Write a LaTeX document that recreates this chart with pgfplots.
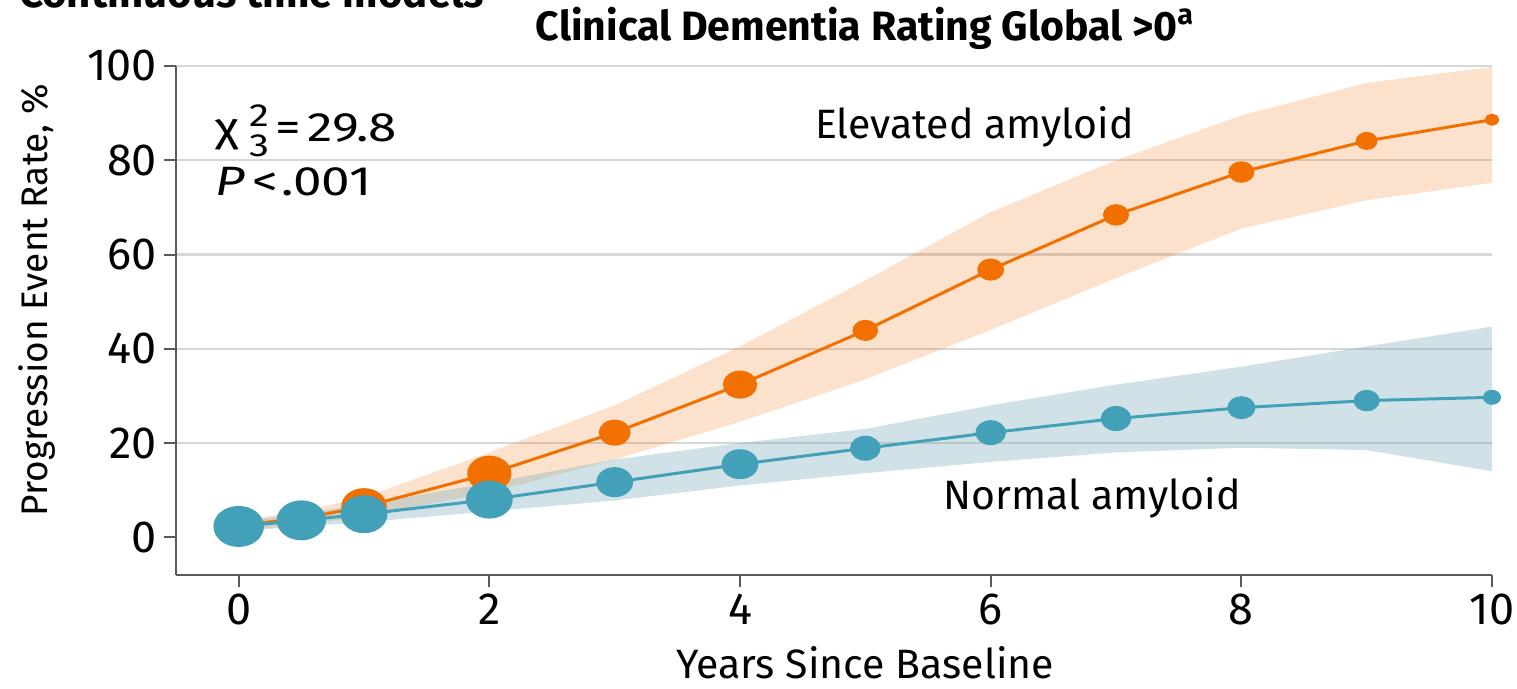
\documentclass[border=0pt]{standalone}
\usepackage{pgfplots}
\pgfplotsset{compat=1.18}
\usepackage{pgfplotstable}
\usepgfplotslibrary{fillbetween}
\usepackage{fontspec}
\setmainfont{Fira Sans}

\definecolor{orangeL}{RGB}{241,112,0}
\definecolor{blueL}{RGB}{66,160,185}
\definecolor{blueB}{RGB}{120,170,185}
\definecolor{gridC}{RGB}{215,215,215}
\definecolor{axisC}{RGB}{90,90,90}

\pgfplotstableread{
x om ou ol ro bm bu bl rb
0 2.5 3.5 1.5 6 2.3 3.3 1.3 9.5
0.5 4 5.5 2.5 7.5 3.6 5 2.3 9.25
1 6.5 8.5 4.5 8.5 4.9 7 3.2 8.75
2 13.5 18 9.5 8.25 8 11.5 5.5 8.75
3 22.2 28 16.5 5.75 11.7 16.5 7.8 6.75
4 32.4 40.5 24.5 6.25 15.5 20 11 6.75
5 43.9 54.5 33.5 4.5 18.9 23 13.6 5.5
6 56.8 69 44 4.75 22.2 28 16 5.5
7 68.4 80 55 4.6 25.2 32.4 18 5.5
8 77.5 89.5 65.5 4.6 27.5 36.2 19 5
9 84.1 96.4 71.5 3.75 29 40.5 18.5 4.6
10 88.6 99.8 75.2 2.25 29.7 44.7 14 3
}\data

\begin{document}
\begin{tikzpicture}
\begin{axis}[
  scale only axis, width=658pt, height=254.5pt,
  xmin=-0.5, xmax=10, ymin=-8, ymax=100,
  axis x line*=bottom, axis y line*=left,
  axis line style={axisC, line width=1pt},
  xtick={0,2,...,10}, ytick={0,20,...,100},
  tick align=outside, major tick length=6pt,
  tick style={axisC, line width=1pt},
  extra y ticks={20,40,60,80,100}, extra y tick labels={},
  extra y tick style={ymajorgrids=true, major tick length=0pt, grid style={gridC, line width=1.2pt}},
  clip=false,
  ticklabel style={font=\fontsize{22.5}{26}\selectfont},
  /pgf/number format/assume math mode=true,
  xlabel={Years Since Baseline},
  xlabel style={at={(axis description cs:0.5236,-0.173)}, anchor=center, font=\fontsize{20.5}{24}\selectfont},
  ylabel={Progression Event Rate, \%},
  ylabel style={at={(axis description cs:-0.1056,0.540)}, anchor=center, font=\fontsize{18.5}{22}\selectfont},
]
\coordinate (O) at (rel axis cs:0,0);
\addplot[name path=ou, draw=none, forget plot] table[x=x,y=ou]{\data};
\addplot[name path=ol, draw=none, forget plot] table[x=x,y=ol]{\data};
\addplot[fill=orangeL, fill opacity=0.2, draw=none, forget plot] fill between[of=ou and ol];
\addplot[name path=bu, draw=none, forget plot] table[x=x,y=bu]{\data};
\addplot[name path=bl, draw=none, forget plot] table[x=x,y=bl]{\data};
\addplot[fill=blueB, fill opacity=0.35, draw=none, forget plot] fill between[of=bu and bl];

\addplot[orangeL, line width=1.5pt, mark=*, scatter,
  scatter/use mapped color={draw=orangeL, fill=orangeL},
  visualization depends on={\thisrow{ro} \as \mrad},
  scatter/@pre marker code/.append style={/tikz/mark size=\mrad, /tikz/xscale=1.25, /tikz/line width=0pt}]
  table[x=x,y=om]{\data};
\addplot[blueL, line width=1.5pt, mark=*, scatter,
  scatter/use mapped color={draw=blueL, fill=blueL},
  visualization depends on={\thisrow{rb} \as \mrad},
  scatter/@pre marker code/.append style={/tikz/mark size=\mrad, /tikz/xscale=1.25, /tikz/line width=0pt}]
  table[x=x,y=bm]{\data};

\node[anchor=base, font=\fontsize{20.5}{24}\selectfont] at (axis cs:5.87,84.7) {Elevated amyloid};
\node[anchor=base, font=\fontsize{20.5}{24}\selectfont] at (axis cs:6.81,5.9) {Normal amyloid};
\node[anchor=base west, font=\fontsize{20.5}{24}\selectfont, inner sep=0pt] at (axis cs:-0.19,83.9)
  {\scalebox{1.25}[1]{χ\kern4pt\makebox[0pt][l]{\raisebox{7.5pt}{\fontsize{16}{16}\selectfont 2}}\raisebox{-7.5pt}{\fontsize{16}{16}\selectfont 3}\kern2.5pt=\kern2.5pt29.8}};
\node[anchor=base west, font=\fontsize{20.5}{24}\selectfont, inner sep=0pt] at (axis cs:-0.19,72.5)
  {\scalebox{1.25}[1]{\textit{P}\kern3pt<\kern1.5pt.001}};
\node[anchor=base, font=\bfseries\fontsize{20.5}{24}\selectfont] at (rel axis cs:0.5236,1.051)
  {Clinical Dementia Rating Global >0\textsuperscript{a}};
\end{axis}
\node[anchor=base west, font=\bfseries\fontsize{21}{25}\selectfont] at ([shift={(-82pt,283.5pt)}]O) {Continuous time models};
\pgfresetboundingbox
\path ([shift={(-88pt,-57pt)}]O) rectangle ([shift={(670.5pt,287.5pt)}]O);
\end{tikzpicture}
\end{document}
